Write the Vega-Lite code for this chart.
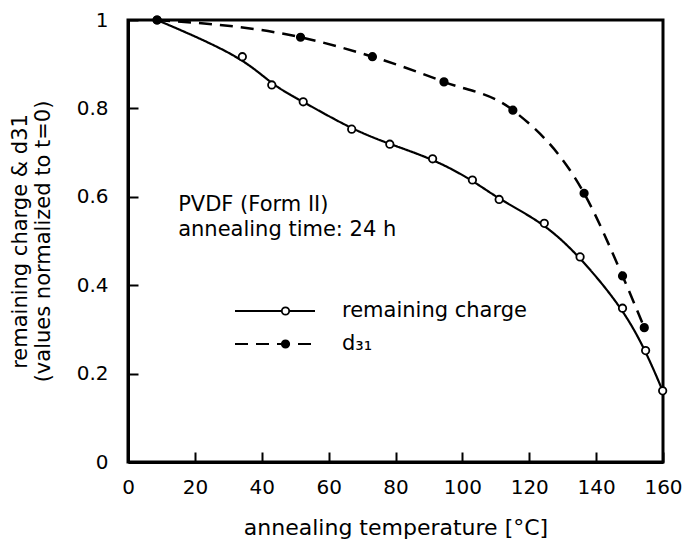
{
  "$schema": "https://vega.github.io/schema/vega-lite/v6.json",
  "width": 535,
  "height": 442,
  "autosize": "none",
  "padding": {"left": 128, "top": 20, "right": 23, "bottom": 83},
  "config": {
    "font": "DejaVu Sans",
    "view": {"stroke": "black", "strokeWidth": 3},
    "axis": {
      "domainColor": "black", "domainWidth": 3,
      "tickColor": "black", "tickWidth": 2, "tickSize": -10,
      "labelFontSize": 20, "labelColor": "black", "labelFont": "DejaVu Sans", "labelFlush": false,
      "titleFontSize": 21, "titleColor": "black", "titleFont": "DejaVu Sans", "titleFontWeight": "normal",
      "grid": false
    }
  },
  "data": {
    "values": [
      {"t": 8.7, "v": 1.0, "series": "remaining charge"},
      {"t": 34.2, "v": 0.917, "series": "remaining charge"},
      {"t": 43.0, "v": 0.853, "series": "remaining charge"},
      {"t": 52.4, "v": 0.815, "series": "remaining charge"},
      {"t": 66.9, "v": 0.753, "series": "remaining charge"},
      {"t": 78.3, "v": 0.719, "series": "remaining charge"},
      {"t": 91.1, "v": 0.686, "series": "remaining charge"},
      {"t": 103.0, "v": 0.638, "series": "remaining charge"},
      {"t": 111.0, "v": 0.594, "series": "remaining charge"},
      {"t": 124.5, "v": 0.54, "series": "remaining charge"},
      {"t": 135.2, "v": 0.464, "series": "remaining charge"},
      {"t": 147.9, "v": 0.348, "series": "remaining charge"},
      {"t": 154.8, "v": 0.252, "series": "remaining charge"},
      {"t": 159.9, "v": 0.161, "series": "remaining charge"},
      {"t": 8.7, "v": 1.0, "series": "d₃₁"},
      {"t": 51.6, "v": 0.961, "series": "d₃₁"},
      {"t": 73.1, "v": 0.917, "series": "d₃₁"},
      {"t": 94.5, "v": 0.86, "series": "d₃₁"},
      {"t": 115.1, "v": 0.796, "series": "d₃₁"},
      {"t": 136.4, "v": 0.608, "series": "d₃₁"},
      {"t": 147.9, "v": 0.421, "series": "d₃₁"},
      {"t": 154.4, "v": 0.304, "series": "d₃₁"}
    ]
  },
  "layer": [
    {
      "transform": [{"filter": "datum.series == 'remaining charge'"}],
      "mark": {"type": "line", "interpolate": "basis", "color": "black", "strokeWidth": 2.2},
      "encoding": {
        "x": {
          "field": "t", "type": "quantitative",
          "scale": {"domain": [0, 160], "nice": false},
          "axis": {"values": [0, 20, 40, 60, 80, 100, 120, 140, 160], "labelPadding": 25, "title": "annealing temperature [°C]", "titleFontSize": 22, "titlePadding": 20}
        },
        "y": {
          "field": "v", "type": "quantitative",
          "scale": {"domain": [0, 1], "nice": false},
          "axis": {"values": [0, 0.2, 0.4, 0.6, 0.8, 1], "format": "~g", "labelPadding": 30, "title": ["remaining charge & d31", "(values normalized to t=0)"], "titlePadding": 23, "titleLineHeight": 23}
        },
        "strokeDash": {
          "field": "series", "type": "nominal",
          "scale": {"domain": ["remaining charge", "d₃₁"], "range": [[1, 0], [13, 8]]},
          "legend": {"orient": "none", "legendX": 106, "legendY": 279, "title": null, "symbolType": "stroke", "symbolSize": 6400, "symbolStrokeColor": "black", "symbolStrokeWidth": 2, "labelFontSize": 21, "labelColor": "black", "labelOffset": 26, "labelLimit": 400, "clipHeight": 24, "rowPadding": 9, "padding": 0}
        }
      }
    },
    {
      "transform": [{"filter": "datum.series != 'remaining charge'"}],
      "mark": {"type": "line", "interpolate": "monotone", "color": "black", "strokeWidth": 2.5},
      "encoding": {
        "x": {"field": "t", "type": "quantitative"},
        "y": {"field": "v", "type": "quantitative"},
        "strokeDash": {"field": "series", "type": "nominal"}
      }
    },
    {
      "mark": {"type": "point", "filled": true, "stroke": "black", "strokeWidth": 1.8, "size": 55, "opacity": 1},
      "encoding": {
        "x": {"field": "t", "type": "quantitative"},
        "y": {"field": "v", "type": "quantitative"},
        "fill": {
          "field": "series", "type": "nominal",
          "sort": ["remaining charge", "d₃₁"],
          "scale": {"range": ["white", "black"]},
          "legend": {"orient": "none", "legendX": 147, "legendY": 279, "title": null, "symbolType": "circle", "symbolSize": 55, "symbolStrokeColor": "black", "symbolStrokeWidth": 1.8, "labelFontSize": 21, "labelExpr": "''", "labelOffset": 0, "clipHeight": 24, "rowPadding": 9, "padding": 0}
        }
      }
    },
    {
      "data": {"values": [{"label": "note"}]},
      "mark": {"type": "text", "align": "left", "baseline": "top", "fontSize": 21, "lineHeight": 25, "color": "black"},
      "encoding": {
        "x": {"datum": 15, "type": "quantitative"},
        "y": {"datum": 0.606, "type": "quantitative"},
        "text": {"value": ["PVDF (Form II)", "annealing time: 24 h"]}
      }
    }
  ]
}
